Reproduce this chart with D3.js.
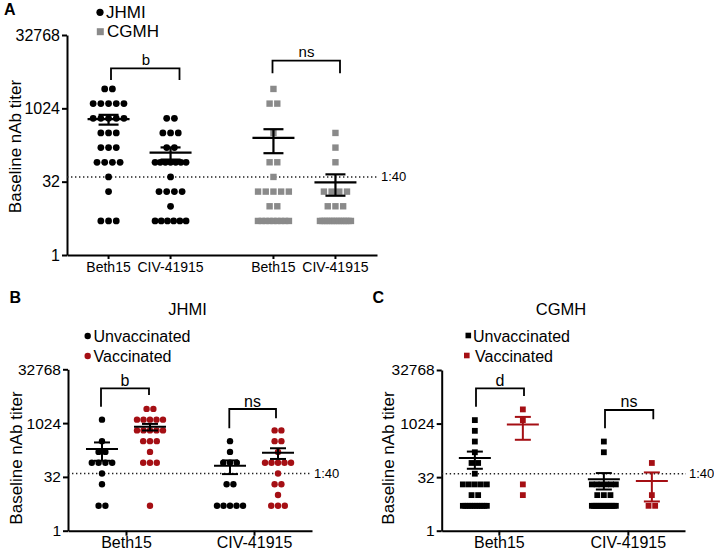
<!DOCTYPE html>
<html>
<head>
<meta charset="utf-8">
<script src="https://cdn.jsdelivr.net/npm/d3@7"></script>
<style>
  body { margin: 0; background: #fff; }
  svg { display: block; font-family: "Liberation Sans", Arial, Helvetica, sans-serif; }
</style>
</head>
<body>
<div id="chart"></div>
<script>
// Baseline nAb titers, one entry per subject
var yTicks = [1, 32, 1024, 32768];
var cutoff = 40;
var strains = ["Beth15", "CIV-41915"];
var sites = ["JHMI", "CGMH"];
var vaxGroups = ["Unvaccinated", "Vaccinated"];

// panel A: all subjects per site
var jhmiBeth15 = [2560, 2560, 1280, 1280, 1280, 1280, 1280, 640, 640, 640, 640, 640,
  320, 320, 320, 160, 160, 160, 80, 80, 80, 80, 40, 20, 5, 5, 5];
var jhmiCiv = [640, 640, 320, 320, 320, 160, 160, 80, 80, 80, 80, 80, 80, 80, 40,
  20, 20, 20, 20, 10, 5, 5, 5, 5, 5, 5];
var cgmhBeth15 = [2560, 1280, 1280, 320, 80, 80, 40, 20, 20, 20, 20, 20, 10, 10,
  5, 5, 5, 5, 5, 5, 5, 5, 5];
var cgmhCiv = [320, 160, 80, 20, 20, 20, 20, 10, 10, 10,
  5, 5, 5, 5, 5, 5, 5, 5, 5, 5, 5, 5, 5, 5];

// panel B: JHMI by vaccination
var jhmiUnvacBeth15 = [1280, 320, 160, 160, 80, 80, 80, 80, 40, 20, 5, 5];
var jhmiVacBeth15 = [2560, 2560, 1280, 1280, 1280, 1280, 1280, 640, 640, 640, 640, 640,
  320, 320, 320, 160, 80, 80, 80, 5];
var jhmiUnvacCiv = [320, 160, 80, 80, 80, 20, 20, 5, 5, 5, 5, 5];
var jhmiVacCiv = [640, 640, 320, 320, 160, 80, 80, 80, 80, 80, 40, 20, 20, 10, 5, 5, 5];

// panel C: CGMH by vaccination
var cgmhUnvacBeth15 = [1280, 640, 320, 160, 80, 80, 40, 20, 20, 20, 20, 20, 10, 10,
  5, 5, 5, 5, 5, 5, 5, 5, 5, 5, 5];
var cgmhVacBeth15 = [2560, 1280, 20, 10];
var cgmhUnvacCiv = [320, 160, 20, 20, 20, 20, 20, 20, 10, 10, 10,
  5, 5, 5, 5, 5, 5, 5, 5, 5, 5, 5, 5, 5, 5];
var cgmhVacCiv = [80, 10, 5, 5];

var sigA = ["b", "ns"];
var sigB = ["b", "ns"];
var sigC = ["d", "ns"];

var RED = "#a50f14";
var GRAY = "#8a8a8a";

var svg = d3.select("#chart").append("svg")
  .attr("width", 714)
  .attr("height", 551);

function styleAxis(sel, size) {
  sel.attr("font-family", null).attr("font-size", size);
  sel.selectAll("path, line").attr("stroke", "#000").attr("stroke-width", 2);
  sel.selectAll("text").attr("fill", "#000");
}

// stack repeated values side by side like a prism scatter dot plot
function drawDots(g, vals, cx, y, o) {
  var bins = d3.group(vals, d => d);
  var pts = [];
  bins.forEach(function(arr, v) {
    var n = arr.length;
    var s = n > 1 ? Math.min(o.spacing, 2 * o.maxHalf / (n - 1)) : 0;
    arr.forEach(function(d, i) {
      pts.push({x: cx + (i - (n - 1) / 2) * s, y: y(v)});
    });
  });
  if (o.shape == "circle") {
    g.append("g").selectAll("circle").data(pts).enter().append("circle")
      .attr("cx", d => d.x).attr("cy", d => d.y).attr("r", o.size / 2)
      .attr("fill", o.color);
  } else {
    g.append("g").selectAll("rect").data(pts).enter().append("rect")
      .attr("x", d => d.x - o.size / 2).attr("y", d => d.y - o.size / 2)
      .attr("width", o.size).attr("height", o.size)
      .attr("fill", o.color);
  }
}

function drawMean(g, vals, cx, y, o, color) {
  var m = d3.mean(vals);
  var sem = d3.deviation(vals) / Math.sqrt(vals.length);
  var eg = g.append("g").attr("stroke", color).attr("stroke-width", o.barWidth);
  eg.append("line").attr("x1", cx).attr("x2", cx).attr("y1", y(m - sem)).attr("y2", y(m + sem));
  eg.append("line").attr("x1", cx - o.meanHalf).attr("x2", cx + o.meanHalf).attr("y1", y(m)).attr("y2", y(m));
  [m - sem, m + sem].forEach(function(v) {
    eg.append("line").attr("x1", cx - o.capHalf).attr("x2", cx + o.capHalf).attr("y1", y(v)).attr("y2", y(v));
  });
}

function drawBracket(g, b, label, fs) {
  g.append("path")
    .attr("d", `M${b.x1},${b.y1}V${b.top}H${b.x2}V${b.y2}`)
    .attr("fill", "none").attr("stroke", "#000").attr("stroke-width", 1.8);
  g.append("text").attr("x", b.lx).attr("y", b.ly)
    .attr("text-anchor", "middle").attr("font-size", fs).text(label);
}

function drawYAxis(g, y, left, o) {
  g.append("g")
    .attr("transform", `translate(${left},0)`)
    .call(d3.axisLeft(y).tickValues(yTicks).tickFormat(d3.format("d"))
      .tickSize(5).tickSizeOuter(0).tickPadding(2))
    .call(styleAxis, o.tickFont);

  g.append("text")
    .attr("transform", `translate(${o.titleX},${o.titleY}) rotate(-90)`)
    .attr("text-anchor", "middle").attr("font-size", 17)
    .text("Baseline nAb titer");

  // 1:40 cutoff
  g.append("line")
    .attr("x1", left).attr("x2", o.dotEnd)
    .attr("y1", y(cutoff)).attr("y2", y(cutoff))
    .attr("stroke", "#222").attr("stroke-width", 1.5).attr("stroke-dasharray", "1.4,2.6");
  g.append("text").attr("x", o.dotEnd + 3).attr("y", y(cutoff) + 4.5)
    .attr("font-size", 13).text("1:" + cutoff);
}

// ---------------- Panel A ----------------
(function() {
  var g = svg.append("g");
  var y = d3.scaleLog().base(2).domain([1, 32768]).range([255, 35]);
  var xSite = d3.scalePoint().domain(sites).range([67, 377]).padding(0.44);
  var xStrain = d3.scalePoint().domain(strains).range([-31, 31]);
  var o = {spacing: 7.7, maxHalf: 15.5, size: 6.8, barWidth: 2.2, meanHalf: 21, capHalf: 10,
    tickFont: 16, titleX: 20.5, titleY: 146.5, dotEnd: 378};

  drawYAxis(g, y, 67, o);

  // x axis line + one tick per column
  var xg = g.append("g").attr("transform", "translate(0,255)");
  xg.call(d3.axisBottom(xSite).tickValues([]).tickSizeOuter(0)).call(styleAxis, 14);
  var cols = [];
  sites.forEach(function(s) {
    strains.forEach(function(t) { cols.push({site: s, strain: t, x: xSite(s) + xStrain(t)}); });
  });
  xg.selectAll(".tk").data(cols).enter().append("line")
    .attr("x1", d => d.x).attr("x2", d => d.x).attr("y1", 0).attr("y2", 4)
    .attr("stroke", "#000").attr("stroke-width", 2);
  xg.selectAll(".lb").data(cols).enter().append("text")
    .attr("x", d => d.x).attr("y", 7.5).attr("dy", "0.71em")
    .attr("fill", "#000")
    .attr("text-anchor", "middle").attr("font-size", 14).text(d => d.strain);

  var series = [
    {vals: jhmiBeth15, site: "JHMI", strain: "Beth15"},
    {vals: jhmiCiv, site: "JHMI", strain: "CIV-41915"},
    {vals: cgmhBeth15, site: "CGMH", strain: "Beth15"},
    {vals: cgmhCiv, site: "CGMH", strain: "CIV-41915"}
  ];
  series.forEach(function(s) {
    var cx = xSite(s.site) + xStrain(s.strain);
    var mk = s.site == "JHMI" ? {shape: "circle", color: "#000"} : {shape: "square", color: GRAY};
    drawDots(g, s.vals, cx, y, Object.assign({}, o, mk, {size: s.site == "JHMI" ? 6.8 : 6.4}));
  });
  series.forEach(function(s) {
    drawMean(g, s.vals, xSite(s.site) + xStrain(s.strain), y, o, "#000");
  });

  drawBracket(g, {x1: 111, x2: 179.5, top: 68.3, y1: 80, y2: 80, lx: 146, ly: 65}, sigA[0], 15);
  drawBracket(g, {x1: 272.5, x2: 340, top: 60.7, y1: 73.3, y2: 73.3, lx: 306.5, ly: 57}, sigA[1], 15);

  // legend
  g.append("circle").attr("cx", 100).attr("cy", 12.3).attr("r", 3.6).attr("fill", "#000");
  g.append("text").attr("x", 106).attr("y", 17.5).attr("font-size", 17).text(sites[0]);
  g.append("rect").attr("x", 96.8).attr("y", 28.2).attr("width", 7).attr("height", 7).attr("fill", GRAY);
  g.append("text").attr("x", 107).attr("y", 36.7).attr("font-size", 17).text(sites[1]);

  g.append("text").attr("x", 4).attr("y", 15).attr("font-size", 16).attr("font-weight", "bold").text("A");
})();

// ---------------- Panels B and C ----------------
function drawSitePanel(p) {
  var g = svg.append("g");
  var y = d3.scaleLog().base(2).domain([1, 32768]).range([530.7, p.top]);
  var xStrain = d3.scalePoint().domain(strains).range([p.left, p.right]).padding(p.pad);
  var xVax = d3.scalePoint().domain(vaxGroups).range([-24, 24]);
  var o = {spacing: p.spacing, maxHalf: p.maxHalf, size: p.size, barWidth: 2, meanHalf: 16, capHalf: 8,
    tickFont: 15.5, titleX: p.titleX, titleY: 458, dotEnd: p.dotEnd};

  drawYAxis(g, y, p.left, o);

  g.append("g").attr("transform", "translate(0,530.7)")
    .call(d3.axisBottom(xStrain).tickSize(5).tickSizeOuter(0).tickPadding(1))
    .call(styleAxis, 16);

  strains.forEach(function(t, i) {
    vaxGroups.forEach(function(v, j) {
      var vals = p.data[i][j];
      var cx = xStrain(t) + xVax(v);
      var color = j == 0 ? "#000" : RED;
      drawDots(g, vals, cx, y, Object.assign({}, o, {shape: p.shape, color: color}));
    });
  });
  strains.forEach(function(t, i) {
    vaxGroups.forEach(function(v, j) {
      var color = (j == 1 && p.redBars) ? RED : "#000";
      drawMean(g, p.data[i][j], xStrain(t) + xVax(v), y, o, color);
    });
  });

  p.brackets.forEach(function(b, i) { drawBracket(g, b, p.sig[i], 16); });

  // title and legend
  g.append("text").attr("x", p.titleCx).attr("y", 315).attr("text-anchor", "middle")
    .attr("font-size", 16.5).text(p.site);
  vaxGroups.forEach(function(v, j) {
    var cy = 336 + j * 20;
    var col = j == 0 ? "#000" : RED;
    if (p.shape == "circle") {
      g.append("circle").attr("cx", p.legX).attr("cy", cy).attr("r", 3.2).attr("fill", col);
    } else {
      g.append("rect").attr("x", p.legX - 2.8 - j * 1.5).attr("y", cy - 3.3).attr("width", 5.6).attr("height", 5.6).attr("fill", col);
    }
    g.append("text").attr("x", p.legTextX[j]).attr("y", cy + 5.5).attr("font-size", 16).text(v);
  });

  g.append("text").attr("x", p.letterX).attr("y", 302.7).attr("font-size", 16)
    .attr("font-weight", "bold").text(p.letter);
}

drawSitePanel({
  letter: "B", letterX: 9.5, site: sites[0], titleCx: 187.5,
  left: 68, right: 312, top: 369.3, pad: 0.453, titleX: 21.5, dotEnd: 311,
  shape: "circle", size: 6.4, spacing: 6.8, maxHalf: 13, redBars: false,
  legX: 87.7, legTextX: [93.5, 93.5],
  data: [[jhmiUnvacBeth15, jhmiVacBeth15], [jhmiUnvacCiv, jhmiVacCiv]],
  sig: sigB,
  brackets: [
    {x1: 101, x2: 149, top: 388.3, y1: 406.7, y2: 395, lx: 125, ly: 386},
    {x1: 229.3, x2: 276, top: 409, y1: 428.3, y2: 418.3, lx: 252.5, ly: 406.5}
  ]
});

drawSitePanel({
  letter: "C", letterX: 372.5, site: sites[1], titleCx: 561,
  left: 441.7, right: 685, top: 370, pad: 0.443, titleX: 393.5, dotEnd: 686,
  shape: "square", size: 5.8, spacing: 6.6, maxHalf: 12, redBars: true,
  legX: 468.3, legTextX: [473, 475],
  data: [[cgmhUnvacBeth15, cgmhVacBeth15], [cgmhUnvacCiv, cgmhVacCiv]],
  sig: sigC,
  brackets: [
    {x1: 476, x2: 524, top: 388.3, y1: 406.7, y2: 396, lx: 500, ly: 386},
    {x1: 605, x2: 653.3, top: 410, y1: 428.3, y2: 419.3, lx: 629, ly: 406.5}
  ]
});
</script>
</body>
</html>
